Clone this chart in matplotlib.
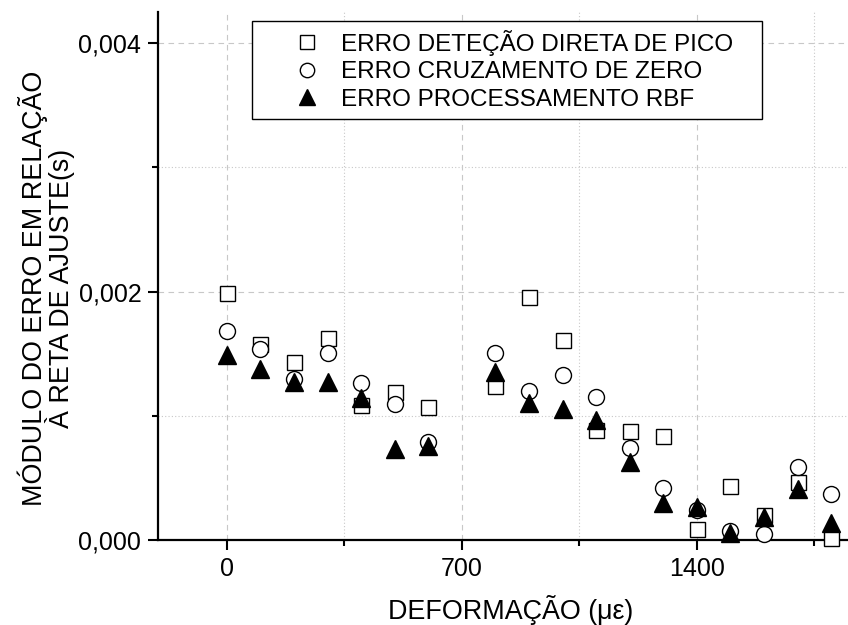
import numpy as np
import matplotlib.pyplot as plt
from matplotlib.ticker import MultipleLocator, FuncFormatter

plt.rcParams["font.family"] = ["Liberation Sans", "DejaVu Sans"]

# deformation (micro-strain)
deform = [0, 100, 200, 300, 400, 500, 600, 800, 900, 1000, 1100, 1200,
          1300, 1400, 1500, 1600, 1700, 1800]

# error values in units of 1e-3 s
err_pico = [1.986, 1.575, 1.43, 1.624, 1.085, 1.189, 1.068, 1.24, 1.956, 1.61,
            0.883, 0.880, 0.835, 0.088, 0.437, 0.205, 0.47, 0.02]
err_zero = [1.685, 1.535, 1.294, 1.503, 1.262, 1.093, 0.787, 1.503, 1.2, 1.328,
            1.149, 0.743, 0.416, 0.242, 0.075, 0.045, 0.585, 0.374]
err_rbf = [1.487, 1.379, 1.272, 1.272, 1.141, 0.735, 0.757, 1.35, 1.10, 1.055,
           0.966, 0.628, 0.295, 0.268, 0.06, 0.185, 0.408, 0.134]

labels = ["ERRO DETEÇÃO DIRETA DE PICO   ",
          "ERRO CRUZAMENTO DE ZERO",
          "ERRO PROCESSAMENTO RBF"]

x = np.array(deform)
y1 = np.array(err_pico) * 1e-3
y2 = np.array(err_zero) * 1e-3
y3 = np.array(err_rbf) * 1e-3

fs = 17.5       # legend
fs_tick = 18
fs_lab = 19.4   # axis titles

fig = plt.figure(figsize=(8.48, 6.25), dpi=100)
ax = fig.add_axes([158 / 848, 85 / 625, 690 / 848, 528 / 625])

ax.plot(x, y1, ls="none", marker="s", ms=10.8, mfc="white", mec="black",
        mew=1.0, clip_on=False, zorder=3, label=labels[0])
ax.plot(x, y2, ls="none", marker="o", ms=11.5, mfc="white", mec="black",
        mew=1.0, clip_on=False, zorder=4, label=labels[1])
ax.plot(x, y3, ls="none", marker="^", ms=13, mfc="black", mec="black",
        mew=1.0, clip_on=False, zorder=5, label=labels[2])

ax.set_xlim(-205, 1850)
ax.set_ylim(0, 0.00425)

ax.xaxis.set_major_locator(MultipleLocator(700))
ax.xaxis.set_minor_locator(MultipleLocator(350))
ax.yaxis.set_major_locator(MultipleLocator(0.002))
ax.yaxis.set_minor_locator(MultipleLocator(0.001))
ax.yaxis.set_major_formatter(FuncFormatter(lambda v, p: "{:.3f}".format(v).replace(".", ",")))

ax.grid(True, which="major", ls=(0, (5, 4)), color="#c8c8c8", lw=0.8)
ax.grid(True, which="minor", ls=(0, (1, 2)), color="#c8c8c8", lw=0.8)
ax.set_axisbelow(True)

for s in ["top", "right"]:
    ax.spines[s].set_visible(False)
for s in ["left", "bottom"]:
    ax.spines[s].set_linewidth(1.6)

ax.tick_params(which="major", direction="out", length=7, width=1.5,
               labelsize=fs_tick, pad=5)
ax.tick_params(which="minor", direction="out", length=4, width=1.5)

fig.text(46 / 848, 1 - 288 / 625,
         "MÓDULO DO ERRO EM RELAÇÃO\nÀ RETA DE AJUSTE(s)",
         rotation=90, ha="center", va="center", ma="center",
         fontsize=fs_lab, linespacing=0.88)
fig.text(511 / 848, 1 - 619 / 625, "DEFORMAÇÃO (με)",
         ha="center", va="baseline", fontsize=fs_lab)

leg = ax.legend(loc="upper left", bbox_to_anchor=(252 / 848, 1 - 21 / 625),
                bbox_transform=fig.transFigure, borderaxespad=0,
                fontsize=fs, frameon=True, fancybox=False, framealpha=1,
                edgecolor="black", handlelength=3.8, handletextpad=-0.5,
                labelspacing=0.23, borderpad=0.35, markerscale=0.9,
                numpoints=1)
leg.get_frame().set_linewidth(1.0)

plt.savefig("out.png", dpi=100)
